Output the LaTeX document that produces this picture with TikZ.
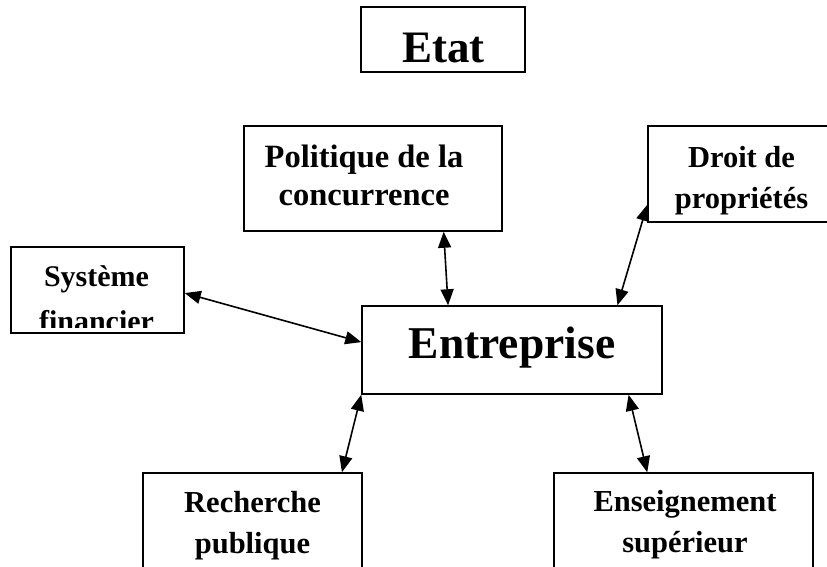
\documentclass[tikz,border=0pt]{standalone}
\usepackage{fontspec}
\setmainfont{Liberation Serif}
\usepackage{tikz}
\usetikzlibrary{arrows.meta}
\tikzset{
box/.style={
  draw,
  line width=1.5pt,
  inner sep=0pt
},
lbl/.style={
  inner sep=0pt,
  align=center,
  anchor=north,
  font=\bfseries\fontsize{30.5}{41}\selectfont
},
link/.style={
  {Triangle[length=16pt,width=13pt]}-{Triangle[length=16pt,width=13pt]},
  line width=1.6pt
},
%big/.style={font=\bfseries\fontsize{45}{50}\selectfont},
}

\begin{document}
\begin{tikzpicture}[x=1pt,y=-1pt]
\useasboundingbox (0,0) rectangle (827,566);
% the boxes
\node[box,minimum width=164pt,minimum height=65pt] (etat) at (443,39.5) {};
\node[box,minimum width=258pt,minimum height=105pt] (pol) at (373,178.5) {};
\node[box,minimum width=188pt,minimum height=96pt] (droit) at (742,174) {};
\node[box,minimum width=173pt,minimum height=86pt] (sys) at (97.5,290) {};
\node[box,minimum width=300pt,minimum height=88pt] (ent) at (512,350) {};
\node[box,minimum width=219pt,minimum height=106pt] (rech) at (252.5,526) {};
\node[box,minimum width=259pt,minimum height=106pt] (ens) at (683.5,526) {};
% the texts
\node[lbl,anchor=base,font=\bfseries\fontsize{45}{50}\selectfont] (etattxt) at (443.5,62) {Etat};
\node[lbl,anchor=base,font=\bfseries\fontsize{45.5}{50}\selectfont] (enttxt) at (512,358) {Entreprise};
\node[lbl,font=\bfseries\fontsize{32.5}{38}\selectfont] (poltxt) at (364,144.6) {Politique de la\\concurrence};
\node[lbl] (droittxt) at (741.5,146) {Droit de\\propriétés};
\node[lbl] (rechtxt) at (252.5,491) {Recherche\\publique};
\node[lbl] (enstxt) at (685,490) {Enseignement\\supérieur};
\begin{scope}
\clip (0,0) rectangle (827,327);
\node[lbl,font=\bfseries\fontsize{30}{45}\selectfont] (systxt) at (96.5,265) {Système\\financier};
\end{scope}
% the arrows
\begin{scope}[link]
\draw (pol.-37.3) -- (ent.145.9);
\draw (droit.-162.9) -- (ent.23.7);
\draw (sys.-2.6) -- (ent.177.3);
\draw (rech.31.2) -- (ent.south west);
\draw (ens.124.6) -- (ent.-21.8);
\end{scope}
\end{tikzpicture}
\end{document}
